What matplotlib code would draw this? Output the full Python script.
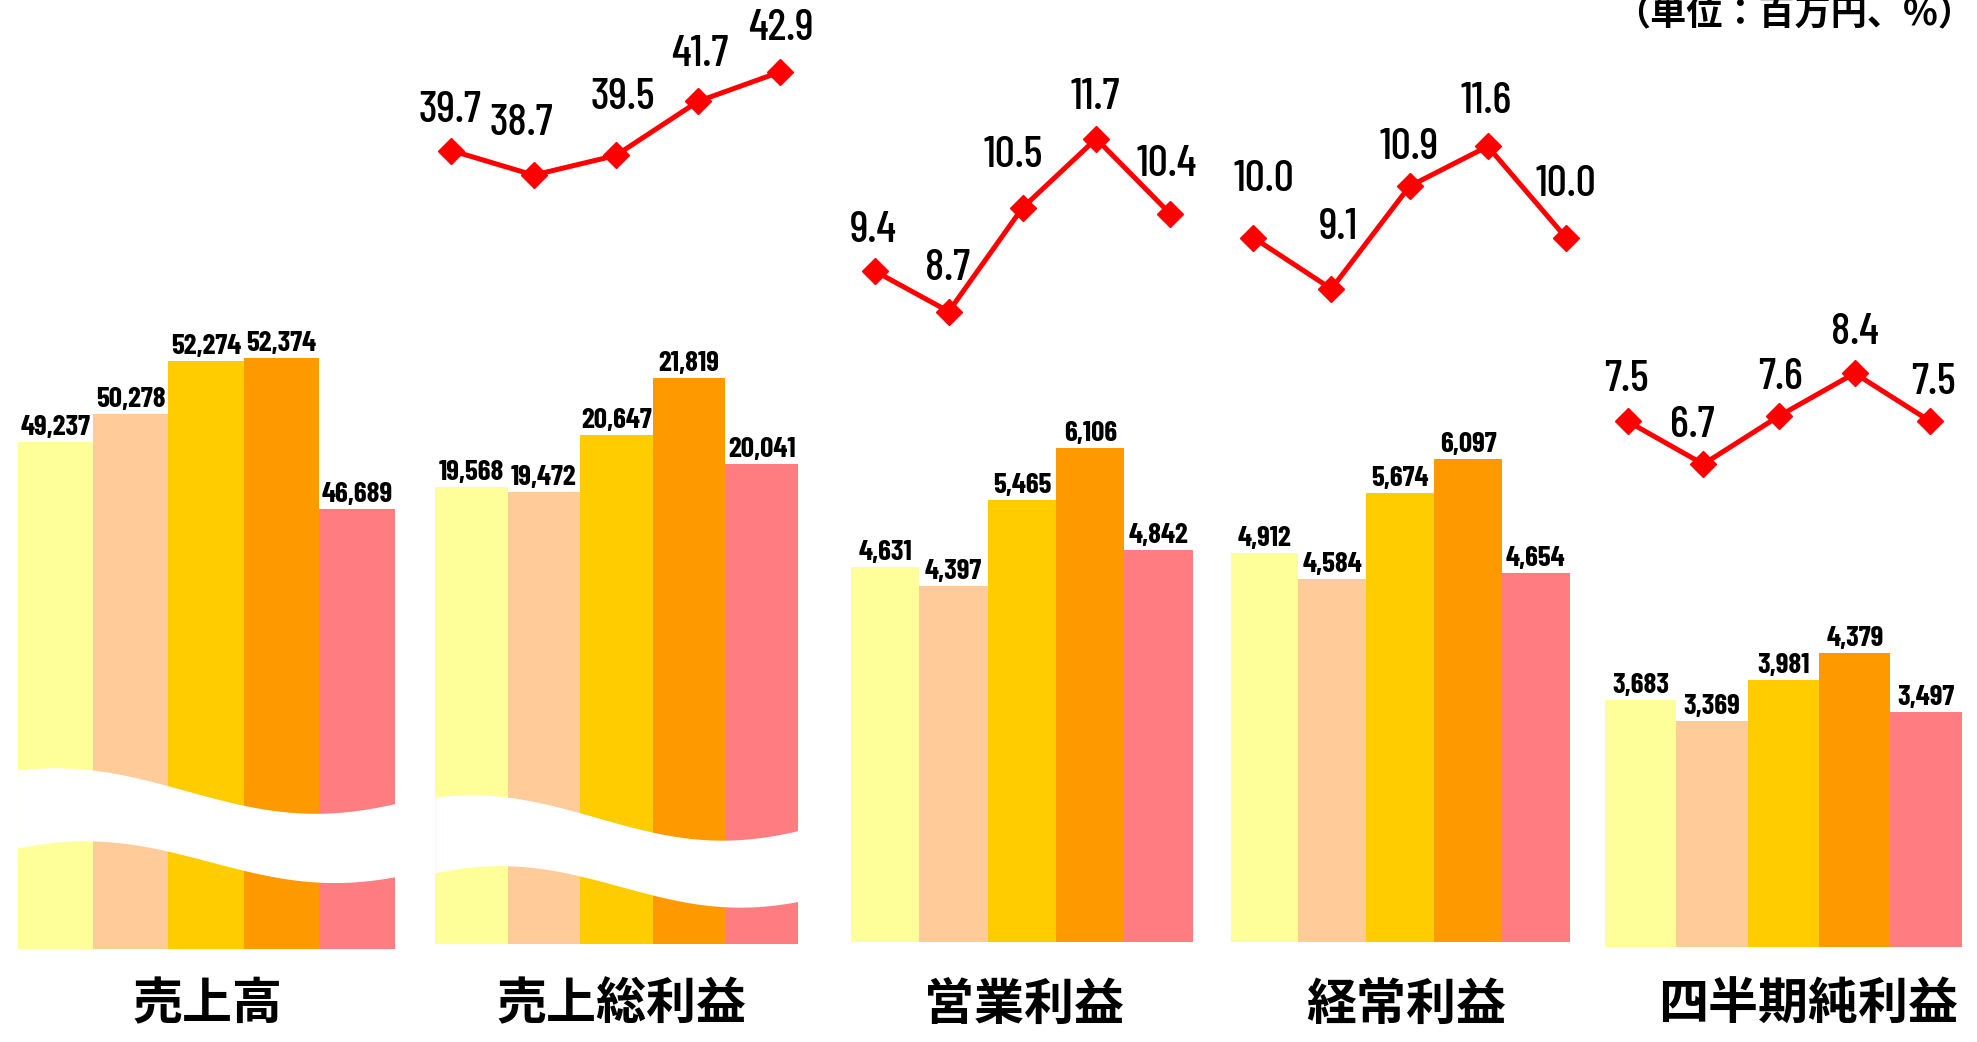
import matplotlib.pyplot as plt
import numpy as np

# data (百万円, %)
categories = ['売上高', '売上総利益', '営業利益', '経常利益', '四半期純利益']
sales = [49237, 50278, 52274, 52374, 46689]
gross_profit = [19568, 19472, 20647, 21819, 20041]
op_profit = [4631, 4397, 5465, 6106, 4842]
ord_profit = [4912, 4584, 5674, 6097, 4654]
net_profit = [3683, 3369, 3981, 4379, 3497]
gross_ratio = [39.7, 38.7, 39.5, 41.7, 42.9]
op_ratio = [9.4, 8.7, 10.5, 11.7, 10.4]
ord_ratio = [10.0, 9.1, 10.9, 11.6, 10.0]
net_ratio = [7.5, 6.7, 7.6, 8.4, 7.5]
unit_label = '（単位：百万円、%）'

bar_colors = ['#FFFF99', '#FFCC99', '#FFCC00', '#FF9900', '#FF7C80']
NUM_FONT = ['Barlow Condensed', 'PT Sans Narrow', 'Fira Sans Condensed',
            'IBM Plex Sans Condensed', 'DejaVu Sans']
JP_FONT = ['Noto Sans CJK JP', 'DejaVu Sans']

W, H = 1977, 1042
fig = plt.figure(figsize=(W / 100, H / 100), dpi=100)


def add_ax(x0, x1, y_bot, y_top=0):
    # pixel box, y counted from the top of the picture
    ax = fig.add_axes([x0 / W, 1 - y_bot / H, (x1 - x0) / W, (y_bot - y_top) / H])
    ax.axis('off')
    return ax


def wave(t, c, a, tp, period):
    return c + a * np.cos(2 * np.pi * (t - tp) / period)


# bar groups: values, x-span (px), baseline (px), y-limits, broken?
groups = [
    (sales, 17.7, 394.6, 949, (30170, 65834), True),
    (gross_profit, 435.0, 798.1, 944, (10113, 29640), True),
    (op_profit, 851.0, 1192.7, 942, (0, 11636), False),
    (ord_profit, 1230.5, 1569.7, 942, (0, 11891), False),
    (net_profit, 1605.0, 1961.8, 947, (0, 14114), False),
]
# break bands (axes fraction): upper c, lower c
breaks = {0: (0.167, 0.092), 1: (0.134, 0.061)}

for gi, (vals, x0, x1, base, ylim, broken) in enumerate(groups):
    ax = add_ax(x0, x1, base)
    x = np.arange(len(vals))
    ax.bar(x, vals, width=1.0, color=bar_colors, zorder=2)
    ax.set_xlim(-0.5, 4.5)
    ax.set_ylim(*ylim)
    for xi, v in zip(x, vals):
        ax.annotate(f'{v:,}', (xi, v), xytext=(0, 5), textcoords='offset points',
                    ha='center', va='baseline', fontsize=21, fontweight='bold',
                    family=NUM_FONT)
    if broken:
        cu, cl = breaks[gi]
        t = np.linspace(0, 1, 300)
        xs = -0.5 + 5 * t
        upper = wave(t, cu, 0.024, 0.10, 1.38)
        lower = wave(t, cl, 0.022, 0.18, 1.32)
        ax.fill_between(xs, lower, upper, color='white', lw=0, zorder=3,
                        transform=ax.get_xaxis_transform())

# ratio lines: values, first/last marker x (px), y-limits, label offsets (pt)
lines = [
    (gross_ratio, 451.4, 780.4, (3.46, 45.82),
     [(-1, 29), (-9, 37), (5, 42), (1, 34), (0, 31)]),
    (op_ratio, 875.0, 1170.0, (-3.98, 14.108),
     [(-1, 29), (-1, 31), (-7, 38), (-1, 30), (-2, 35)]),
    (ord_ratio, 1253.2, 1565.9, (-4.11, 14.167),
     [(8, 42), (5, 44), (0, 28), (-1, 32), (0, 38)]),
    (net_ratio, 1627.7, 1930.3, (-4.10, 15.376),
     [(-1, 30), (-8, 28), (1, 28), (0, 29), (2, 28)]),
]

for vals, m0, m4, ylim, offs in lines:
    sp = (m4 - m0) / 4
    ax = add_ax(m0 - sp / 2, m4 + sp / 2, H, 0)
    x = np.arange(len(vals))
    ax.plot(x, vals, color='#FF0000', lw=3.6, marker='D', ms=13, zorder=4)
    ax.set_xlim(-0.5, 4.5)
    ax.set_ylim(*ylim)
    for xi, v, (dx, dy) in zip(x, vals, offs):
        ax.annotate(f'{v:.1f}', (xi, v), xytext=(dx, dy), textcoords='offset points',
                    ha='center', va='center', fontsize=32, fontweight=500,
                    family=NUM_FONT)

# category labels
cat_x = [208, 621.6, 1023.8, 1405.8, 1808]
for name, cx in zip(categories, cat_x):
    fig.text(cx / W, 1 - 1005 / H, name, ha='center', va='center',
             fontsize=36, fontweight='bold', family=JP_FONT)

fig.text(1974 / W, 1 - 24 / H, unit_label, ha='right', va='baseline',
         fontsize=26, fontweight='bold', family=JP_FONT)

fig.savefig('out.png', dpi=100)
